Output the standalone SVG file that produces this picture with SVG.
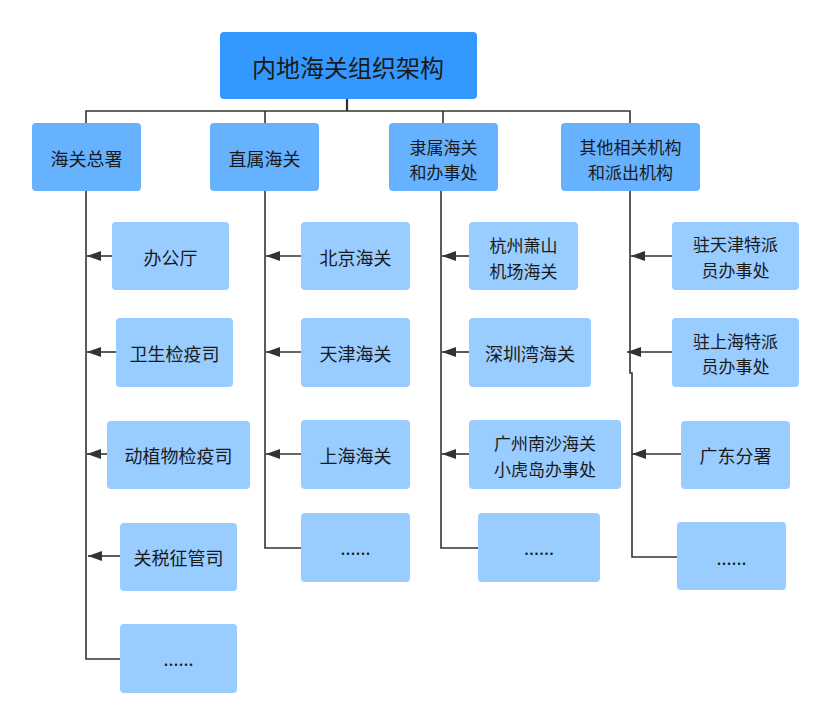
<svg xmlns="http://www.w3.org/2000/svg" width="830" height="725" viewBox="0 0 830 725">
<style>
text{font-family:"Noto Sans CJK SC","Noto Sans",sans-serif;fill:#1a1a1a;text-anchor:middle;dominant-baseline:central;font-size:18px}
.m{font-size:17px}
.top{fill:#3399FF}
.l2{fill:#66B2FF}
.l3{fill:#99CCFF}
.t{font-size:24px}
.c{fill:none;stroke:#333;stroke-width:1.6}
.a{marker-end:url(#arr)}
</style>
<defs>
<marker id="arr" markerUnits="userSpaceOnUse" markerWidth="15" markerHeight="11" refX="14" refY="5" orient="auto">
<path d="M0,0 L14,5 L0,10 z" fill="#333"/>
</marker>
</defs>
<rect width="830" height="725" fill="#fff"/>
<g id="connectors">
<path class="c" d="M347 99 V111" style="stroke-width:2.2"/>
<path class="c" d="M86 123 V111 H630 V123 M265 111 V123 M443 111 V123"/>
<path class="c" d="M86 191 V659 H120"/>
<path class="c a" d="M112 256 H87"/>
<path class="c a" d="M116 352 H87"/>
<path class="c a" d="M107 454 H87"/>
<path class="c a" d="M120 556 H88"/>
<path class="c" d="M265 191 V548 H301"/>
<path class="c a" d="M301 256 H266"/>
<path class="c a" d="M301 352 H266"/>
<path class="c a" d="M301 454 H266"/>
<path class="c" d="M441 191 V548 H478"/>
<path class="c a" d="M469 256 H442"/>
<path class="c a" d="M469 352 H442"/>
<path class="c a" d="M469 454 H442"/>
<path class="c" d="M630 191 V373 H632 V557 H677"/>
<path class="c a" d="M672 256 H631"/>
<path class="c a" d="M672 352 H627"/>
<path class="c a" d="M681 454 H632"/>
</g>
<g id="root"><rect class="top" x="220" y="32" width="257" height="67" rx="4"/><text class="t" x="348" y="66">内地海关组织架构</text></g>
<g id="n-zongshu"><rect class="l2" x="32" y="123" width="109" height="68" rx="4"/><text x="86.5" y="158">海关总署</text></g>
<g id="n-zhishu"><rect class="l2" x="210" y="123" width="109" height="68" rx="4"/><text x="264.5" y="158">直属海关</text></g>
<g id="n-lishu"><rect class="l2" x="389" y="123" width="109" height="68" rx="4"/><text class="m" x="443.5" y="146">隶属海关<tspan x="443.5" dy="25">和办事处</tspan></text></g>
<g id="n-qita"><rect class="l2" x="561" y="123" width="139" height="68" rx="4"/><text class="m" x="630.5" y="146">其他相关机构<tspan x="630.5" dy="25">和派出机构</tspan></text></g>

<g id="n-bangongting"><rect class="l3" x="112" y="222" width="117" height="68" rx="4"/><text x="170.5" y="257">办公厅</text></g>
<g id="n-weisheng"><rect class="l3" x="116" y="318" width="117" height="69" rx="4"/><text x="174.5" y="353">卫生检疫司</text></g>
<g id="n-dongzhiwu"><rect class="l3" x="107" y="421" width="143" height="68" rx="4"/><text x="178.5" y="455">动植物检疫司</text></g>
<g id="n-guanshui"><rect class="l3" x="120" y="523" width="117" height="68" rx="4"/><text x="178.5" y="557">关税征管司</text></g>
<g id="n-more1"><rect class="l3" x="120" y="624" width="117" height="69" rx="4"/><text x="178.5" y="658">......</text></g>

<g id="n-beijing"><rect class="l3" x="301" y="222" width="109" height="68" rx="4"/><text x="355.5" y="257">北京海关</text></g>
<g id="n-tianjin"><rect class="l3" x="301" y="318" width="109" height="69" rx="4"/><text x="355.5" y="353">天津海关</text></g>
<g id="n-shanghai"><rect class="l3" x="301" y="420" width="109" height="69" rx="4"/><text x="355.5" y="455">上海海关</text></g>
<g id="n-more2"><rect class="l3" x="301" y="513" width="109" height="69" rx="4"/><text x="355.5" y="547">......</text></g>

<g id="n-hangzhou"><rect class="l3" x="469" y="222" width="109" height="68" rx="4"/><text class="m" x="523.5" y="244.5">杭州萧山<tspan x="523.5" dy="25">机场海关</tspan></text></g>
<g id="n-shenzhen"><rect class="l3" x="469" y="318" width="122" height="69" rx="4"/><text x="530" y="353">深圳湾海关</text></g>
<g id="n-guangzhou"><rect class="l3" x="469" y="420" width="152" height="69" rx="4"/><text class="m" x="545" y="442.5">广州南沙海关<tspan x="545" dy="25">小虎岛办事处</tspan></text></g>
<g id="n-more3"><rect class="l3" x="478" y="513" width="122" height="69" rx="4"/><text x="539" y="547">......</text></g>

<g id="n-zhutianjin"><rect class="l3" x="672" y="222" width="127" height="68" rx="4"/><text class="m" x="735.5" y="243.5">驻天津特派<tspan x="735.5" dy="25">员办事处</tspan></text></g>
<g id="n-zhushanghai"><rect class="l3" x="672" y="318" width="127" height="69" rx="4"/><text class="m" x="735.5" y="340">驻上海特派<tspan x="735.5" dy="25">员办事处</tspan></text></g>
<g id="n-guangdong"><rect class="l3" x="681" y="421" width="109" height="68" rx="4"/><text x="735.5" y="455">广东分署</text></g>
<g id="n-more4"><rect class="l3" x="677" y="522" width="109" height="68" rx="4"/><text x="731.5" y="557">......</text></g>
</svg>
